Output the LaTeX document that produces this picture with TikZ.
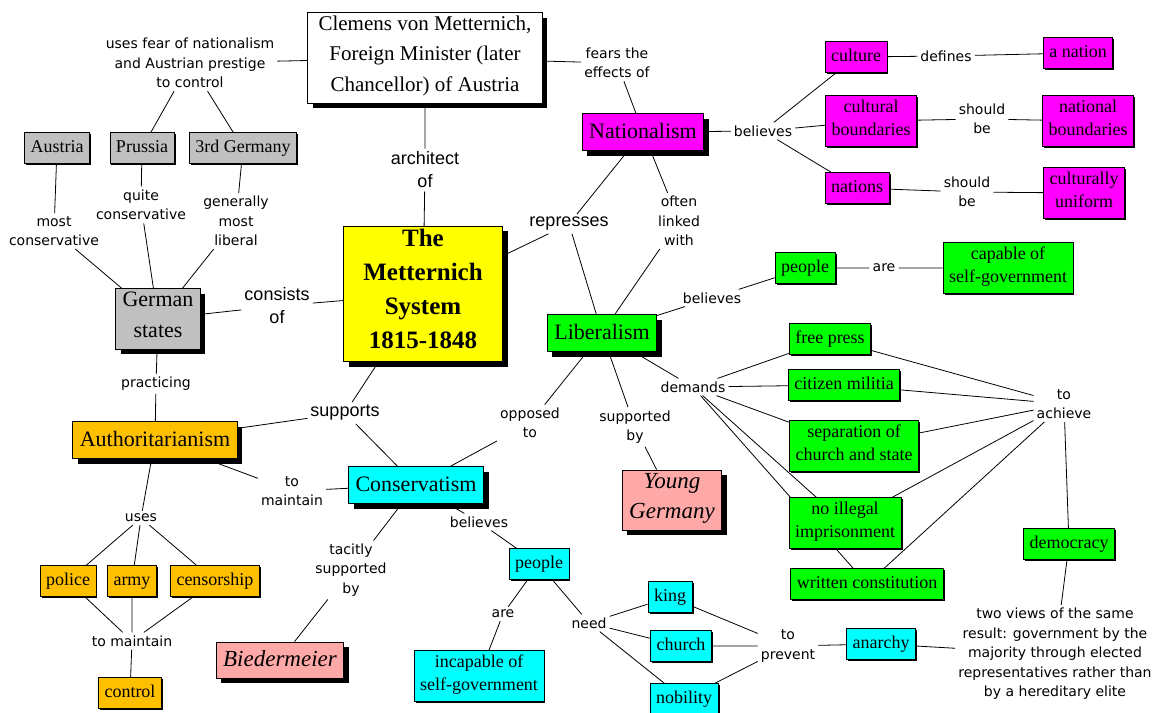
\documentclass[tikz,border=0pt]{standalone}
\usepackage{fontspec}
\setmainfont{Liberation Serif}
\newfontfamily\linkfont{DejaVu Sans}
\newfontfamily\biglinkfont{Liberation Sans}
\usetikzlibrary{shadows}
\definecolor{orangeC}{RGB}{255,192,0}
\definecolor{pinkC}{RGB}{255,168,168}
\definecolor{greyC}{RGB}{192,192,192}
\definecolor{cyanC}{RGB}{0,255,255}
\definecolor{magentaC}{RGB}{255,0,255}
\definecolor{greenC}{RGB}{0,255,0}
\definecolor{yellowC}{RGB}{255,255,0}
\pgfdeclarelayer{bg}
\pgfdeclarelayer{edges}
\pgfsetlayers{bg,edges,main}

\begin{document}
\begin{tikzpicture}[x=1pt,y=-1pt,
    base/.style={draw, line width=0.8pt, align=center,
      execute at begin node=\strut, execute at end node=\strut},
    concept/.style={base, font=\fontsize{18}{23}\selectfont, inner xsep=6pt, inner ysep=4pt,
      drop shadow={shadow xshift=1.5pt, shadow yshift=-1.5pt, fill=black, opacity=1}},
    bigconcept/.style={base, font=\fontsize{22}{31}\selectfont, inner xsep=7pt, inner ysep=3pt,
      drop shadow={shadow xshift=5pt, shadow yshift=-5pt, fill=black, opacity=1}},
    link/.style={font=\linkfont\fontsize{14}{19.5}\selectfont, align=center, inner sep=3pt},
    biglink/.style={link, font=\biglinkfont\fontsize{18}{23}\selectfont},
    conn/.style={line width=0.8pt}]
\useasboundingbox (0,0) rectangle (1159,712);
\begin{pgfonlayer}{bg}
  \fill[white] (0,0) rectangle (1159,712);
\end{pgfonlayer}

% concepts
\node[bigconcept, fill=white, inner xsep=11pt, font=\fontsize{21}{30.5}\selectfont] (met) at (425,58)
  {Clemens von Metternich,\\Foreign Minister (later\\Chancellor) of Austria};
\node[bigconcept, fill=yellowC, minimum width=159pt, font=\bfseries\fontsize{25}{34}\selectfont] (sys) at (423,294)
  {The\\Metternich\\System\\1815-1848};
\node[bigconcept, fill=greyC] (ger) at (158,319) {German\\states};
\node[concept, fill=greyC] (aus) at (57,148) {Austria};
\node[concept, fill=greyC] (pru) at (142,148) {Prussia};
\node[concept, fill=greyC] (third) at (243,148) {3rd Germany};
\node[bigconcept, fill=orangeC] (auth) at (155,440) {Authoritarianism};
\node[concept, fill=orangeC] (pol) at (68,581) {police};
\node[concept, fill=orangeC] (army) at (132,581) {army};
\node[concept, fill=orangeC] (cens) at (215,581) {censorship};
\node[concept, fill=orangeC] (ctrl) at (130,693) {control};
\node[bigconcept, fill=cyanC] (cons) at (416,485) {Conservatism};
\node[bigconcept, fill=pinkC, font=\itshape\fontsize{23}{30}\selectfont] (bied) at (280,660) {Biedermeier};
\node[concept, fill=cyanC] (pplc) at (539,564) {people};
\node[concept, fill=cyanC] (incap) at (479,676) {incapable of\\self-government};
\node[concept, fill=cyanC] (king) at (670,597) {king};
\node[concept, fill=cyanC] (church) at (681,646) {church};
\node[concept, fill=cyanC] (nob) at (684,699) {nobility};
\node[concept, fill=cyanC] (anar) at (881,644) {anarchy};
\node[bigconcept, fill=greenC] (lib) at (602,333) {Liberalism};
\node[bigconcept, fill=pinkC, font=\itshape\fontsize{23}{30}\selectfont] (young) at (672,500) {Young\\Germany};
\node[bigconcept, fill=magentaC] (nat) at (643,132) {Nationalism};
\node[concept, fill=magentaC] (cult) at (856,57) {culture};
\node[concept, fill=magentaC] (anat) at (1078,53) {a nation};
\node[concept, fill=magentaC] (cbound) at (871,121) {cultural\\boundaries};
\node[concept, fill=magentaC] (nbound) at (1088,121) {national\\boundaries};
\node[concept, fill=magentaC] (nations) at (857,188) {nations};
\node[concept, fill=magentaC] (cunif) at (1084,193) {culturally\\uniform};
\node[concept, fill=greenC] (pplg) at (805,268) {people};
\node[concept, fill=greenC] (capable) at (1008,268) {capable of\\self-government};
\node[concept, fill=greenC] (fp) at (830,339) {free press};
\node[concept, fill=greenC] (cm) at (844,385) {citizen militia};
\node[concept, fill=greenC] (sep) at (854,446) {separation of\\church and state};
\node[concept, fill=greenC] (noill) at (845,523) {no illegal\\imprisonment};
\node[concept, fill=greenC] (wc) at (867,584) {written constitution};
\node[concept, fill=greenC] (demo) at (1069,544) {democracy};

% linking phrases
\node[link] (fearctl) at (190,63) {uses fear of nationalism\\and Austrian prestige\\to control};
\node[biglink] (arch) at (425,170) {architect\\of};
\node[link] (fears) at (617,63) {fears the\\effects of};
\node[link] (mostc) at (54,231) {most\\conservative};
\node[link] (quitec) at (141,205) {quite\\conservative};
\node[link] (genlib) at (236,221) {generally\\most\\liberal};
\node[biglink] (consof) at (277,306) {consists\\of};
\node[biglink] (repr) at (569,224) {represses};
\node[link] (often) at (679,221) {often\\linked\\with};
\node[link] (beln) at (763,131) {believes};
\node[link] (defines) at (946,56) {defines};
\node[link] (sba) at (982,119) {should\\be};
\node[link] (sbb) at (967,192) {should\\be};
\node[link] (bell) at (712,298) {believes};
\node[link] (arel) at (884,268) {are};
\node[link] (pract) at (156,384) {practicing};
\node[biglink] (supp) at (345,413) {supports};
\node[link] (opp) at (530,423) {opposed\\to};
\node[link] (suppby) at (635,427) {supported\\by};
\node[link] (dem) at (693,387) {demands};
\node[link] (ach) at (1064,404) {to\\achieve};
\node[link] (uses) at (141,518) {uses};
\node[link] (tomain) at (292,491) {to\\maintain};
\node[link] (belc) at (479,522) {believes};
\node[link] (tacit) at (351,570) {tacitly\\supported\\by};
\node[link] (tomaintwo) at (132,641) {to maintain};
\node[link] (arec) at (503,614) {are};
\node[link] (need) at (589,623) {need};
\node[link] (prev) at (788,646) {to\\prevent};
\node[link] (views) at (1055,654) {two views of the same\\result: government by the\\majority through elected\\representatives rather than\\by a hereditary elite};

\begin{pgfonlayer}{edges}
\draw[conn] (met) -- (fearctl) (fearctl) -- (pru) (fearctl) -- (third);
\draw[conn] (met) -- (arch) -- (sys);
\draw[conn] (met) -- (fears) -- (nat);
\draw[conn] (aus) -- (mostc) -- (ger);
\draw[conn] (pru) -- (quitec) -- (ger);
\draw[conn] (third) -- (genlib) -- (ger);
\draw[conn] (sys) -- (consof) -- (ger);
\draw[conn] (sys) -- (repr) (repr) -- (nat) (repr) -- (lib);
\draw[conn] (nat) -- (often) -- (lib);
\draw[conn] (nat) -- (beln);
\foreach \n in {cult,cbound,nations} \draw[conn] (beln) -- (\n);
\draw[conn] (cult) -- (defines) -- (anat);
\draw[conn] (cbound) -- (sba) -- (nbound);
\draw[conn] (nations) -- (sbb) -- (cunif);
\draw[conn] (lib) -- (bell) -- (pplg) -- (arel) -- (capable);
\draw[conn] (lib) -- (dem);
\foreach \n in {fp,cm,sep,noill,wc} \draw[conn] (dem) -- (\n) (\n) -- (ach);
\draw[conn] (ach) -- (demo) -- (views) -- (anar);
\draw[conn] (lib) -- (suppby) -- (young);
\draw[conn] (lib) -- (opp) -- (cons);
\draw[conn] (sys) -- (supp) (supp) -- (auth) (supp) -- (cons);
\draw[conn] (ger) -- (pract) -- (auth);
\draw[conn] (auth) -- (uses);
\foreach \n in {pol,army,cens} \draw[conn] (uses) -- (\n) (\n) -- (tomaintwo);
\draw[conn] (tomaintwo) -- (ctrl);
\draw[conn] (auth) -- (tomain) -- (cons);
\draw[conn] (cons) -- (tacit) -- (bied);
\draw[conn] (cons) -- (belc) -- (pplc) -- (arec) -- (incap);
\draw[conn] (pplc) -- (need);
\foreach \n in {king,church,nob} \draw[conn] (need) -- (\n) (\n) -- (prev);
\draw[conn] (prev) -- (anar);
\end{pgfonlayer}
\end{tikzpicture}
\end{document}
